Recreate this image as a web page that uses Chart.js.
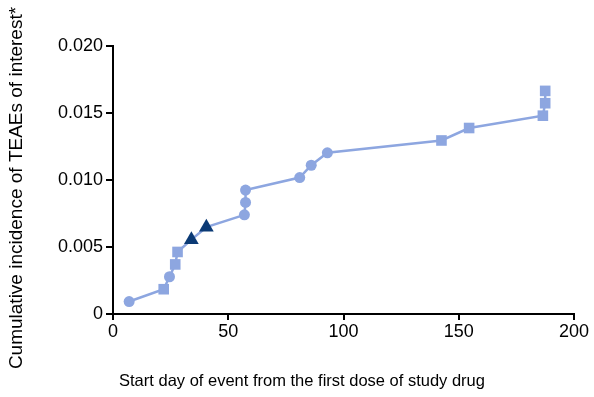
<!DOCTYPE html>
<html>
<head>
<meta charset="utf-8">
<script src="https://cdn.jsdelivr.net/npm/chart.js@4/dist/chart.umd.min.js"></script>
<style>
  html, body { margin: 0; padding: 0; background: #fff; }
  #wrap { width: 594px; height: 397px; position: relative; }
</style>
</head>
<body>
<div id="wrap"><canvas id="incidenceChart"></canvas></div>
<script>
// Start day of each event and the cumulative incidence after it
const startDays = [7, 22, 24.5, 27, 28, 34, 40.5, 57, 57.5, 57.5, 81, 86, 93, 142.5, 154.5, 186.5, 187.5, 187.5];
const incidence = [0.00093, 0.00185, 0.00278, 0.0037, 0.00463, 0.00555, 0.00648, 0.0074, 0.00833, 0.00925,
                   0.01018, 0.0111, 0.01203, 0.01295, 0.01388, 0.0148, 0.01573, 0.01665];
// marker group of each event
const markerType = ['circle', 'rect', 'circle', 'rect', 'rect', 'triangle', 'triangle', 'circle', 'circle', 'circle',
                    'circle', 'circle', 'circle', 'rect', 'rect', 'rect', 'rect', 'rect'];
const xTicks = [0, 50, 100, 150, 200];
const yTicks = [0, 0.005, 0.010, 0.015, 0.020];
const xTitle = 'Start day of event from the first dose of study drug';
const yTitle = 'Cumulative incidence of TEAEs of interest*';

const lightBlue = '#8da6e0';
const navy = '#0b3a75';
const font = "'Liberation Sans', Arial, sans-serif";

const pointColors = markerType.map(t => t === 'triangle' ? navy : lightBlue);
const pointSizes = markerType.map(t => t === 'triangle' ? 8.5 : (t === 'rect' ? 7.5 : 5.5));

// axis titles are centred on the whole canvas, not on the plot area
const axisTitles = {
    id: 'axisTitles',
    afterDraw(chart) {
        const ctx = chart.ctx;
        ctx.save();
        ctx.fillStyle = '#000';
        ctx.textAlign = 'center';
        ctx.textBaseline = 'middle';
        ctx.font = '16.5px ' + font;
        ctx.fillText(xTitle, 302, 381);
        ctx.font = '19px ' + font;
        ctx.translate(17, 188);
        ctx.rotate(-Math.PI / 2);
        ctx.fillText(yTitle, 0, 0);
        ctx.restore();
    }
};

new Chart(document.getElementById('incidenceChart'), {
    type: 'scatter',
    data: {
        datasets: [{
            data: startDays.map((d, i) => ({ x: d, y: incidence[i] })),
            showLine: true,
            borderColor: lightBlue,
            borderWidth: 2.5,
            pointStyle: markerType,
            pointRadius: pointSizes,
            pointHoverRadius: pointSizes,
            pointBackgroundColor: pointColors,
            pointBorderColor: pointColors,
            pointBorderWidth: 0
        }]
    },
    options: {
        responsive: true,
        maintainAspectRatio: false,
        animation: false,
        layout: { padding: { top: 46, right: 20, left: 0, bottom: 0 } },
        plugins: { legend: { display: false }, tooltip: { enabled: false } },
        scales: {
            x: {
                type: 'linear',
                min: 0, max: 200,
                afterFit: s => { s.height = 83; },
                afterBuildTicks: s => { s.ticks = xTicks.map(v => ({ value: v })); },
                grid: { drawOnChartArea: false, drawTicks: true, tickLength: 6, color: '#000', lineWidth: 2 },
                border: { display: true, color: '#000', width: 2 },
                ticks: { color: '#000', font: { family: font, size: 18 }, padding: 1, maxRotation: 0 }
            },
            y: {
                min: 0, max: 0.02,
                afterFit: s => { s.width = 113; },
                afterBuildTicks: s => { s.ticks = yTicks.map(v => ({ value: v })); },
                grid: { drawOnChartArea: false, drawTicks: true, tickLength: 7, color: '#000', lineWidth: 2 },
                border: { display: true, color: '#000', width: 2 },
                ticks: {
                    color: '#000', font: { family: font, size: 18 }, padding: 3,
                    callback: v => v === 0 ? '0' : v.toFixed(3)
                }
            }
        }
    },
    plugins: [axisTitles]
});
</script>
</body>
</html>
